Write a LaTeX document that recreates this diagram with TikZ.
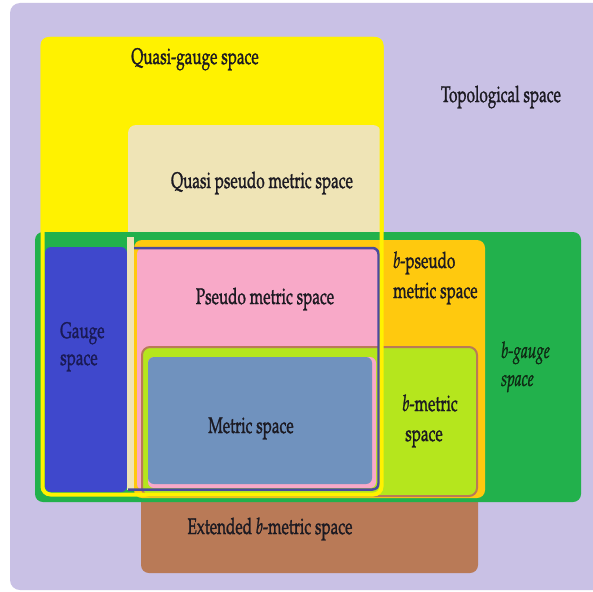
\documentclass[tikz,border=0pt]{standalone}
\usepackage[T1]{fontenc}
\usepackage{mathpazo}
\usepackage{graphicx}
\definecolor{lav}{HTML}{C9C1E5}
\definecolor{qyellow}{HTML}{FFF200}
\definecolor{qbeige}{HTML}{EFE4B6}
\definecolor{bgreen}{HTML}{22B14C}
\definecolor{gblue}{HTML}{3F48CC}
\definecolor{borange}{HTML}{FFC90E}
\definecolor{ppink}{HTML}{F8A9C8}
\definecolor{blime}{HTML}{B5E61D}
\definecolor{ebrown}{HTML}{B97A57}
\definecolor{msteel}{HTML}{7092BE}
\definecolor{pborder}{HTML}{4B4A9E}
\definecolor{txt}{HTML}{1C1A22}
\definecolor{gtxt}{HTML}{1A1A55}
\definecolor{bgtxt}{HTML}{0F2A14}
\newcommand{\sq}[1]{\special{pdf:literal direct 2 Tr 0.35 w}\scalebox{0.68}[1]{#1}\special{pdf:literal direct 0 Tr}}
\begin{document}
\begin{tikzpicture}[x=1pt,y=-1pt,
  lbl/.style={font=\fontsize{22.5}{26}\selectfont, text=txt, inner sep=0pt},
  area/.style={rounded corners=8pt}]
\useasboundingbox (0,0) rectangle (593,591);
\clip (0,0) rectangle (593,591);
\fill[white] (0,0) rectangle (593,591);
% topological space
\fill[lav, rounded corners=10pt] (10,3) -- (610,3) -- (610,590) -- (10,590) -- cycle;
% quasi-gauge
\fill[qyellow, area] (40.5,37) rectangle (383.5,496.5);
% quasi pseudo metric
\fill[qbeige, area] (128,125) rectangle (381,486);
% extended b-metric
\fill[ebrown, area] (141,346) rectangle (478,573);
% b-gauge
\fill[bgreen, area] (35,232) rectangle (581,502);
% gauge
\fill[gblue, rounded corners=6pt] (45,247) rectangle (127,492);
% strip of quasi pseudo metric
\fill[qbeige] (127,237) rectangle (134,490);
% b-pseudo metric
\fill[borange, area] (134,240) rectangle (485,498);
% pseudo metric
\fill[ppink, rounded corners=6pt] (137,248) rectangle (379,490);
% b-metric
\filldraw[fill=blime, draw=ebrown, line width=2pt, area] (142,347) rectangle (477,496);
% metric
\fill[ppink, rounded corners=6pt] (148,357) rectangle (376,488);
\fill[msteel, rounded corners=6pt] (148,357) rectangle (372,484);
% outlines
\draw[pborder, line width=2.5pt, rounded corners=6pt] (134,248) -- (378.5,248) -- (378.5,489.5) -- (128,489.5);
\draw[qyellow, line width=4pt, area] (42.5,39) rectangle (381.5,494.5);
% labels
\node[lbl, anchor=base] (qg) at (195,64) {\sq{Quasi-gauge space}};
\node[lbl, anchor=base] (top) at (501,102) {\sq{Topological space}};
\node[lbl, anchor=base] (qpm) at (262,188) {\sq{Quasi pseudo metric space}};
\node[lbl, anchor=base] (pm) at (265,304) {\sq{Pseudo metric space}};
\node[lbl, anchor=base west] (bp1) at (393,268) {\sq{\textit{b}-pseudo}};
\node[lbl, anchor=base west] (bp2) at (393,298) {\sq{metric space}};
\node[lbl, anchor=base west, text=gtxt] (g1) at (60,338) {\sq{Gauge}};
\node[lbl, anchor=base west, text=gtxt] (g2) at (60,365) {\sq{space}};
\node[lbl, anchor=base west, text=bgtxt] (bg1) at (501,358) {\sq{\textit{b-gauge}}};
\node[lbl, anchor=base west, text=bgtxt] (bg2) at (501,386) {\sq{\textit{space}}};
\node[lbl, anchor=base] (bm1) at (430,411) {\sq{\textit{b}-metric}};
\node[lbl, anchor=base] (bm2) at (424,441) {\sq{space}};
\node[lbl, anchor=base] (ms) at (251,433) {\sq{Metric space}};
\node[lbl, anchor=base] (ext) at (270,534) {\sq{Extended \textit{b}-metric space}};
\end{tikzpicture}
\end{document}
